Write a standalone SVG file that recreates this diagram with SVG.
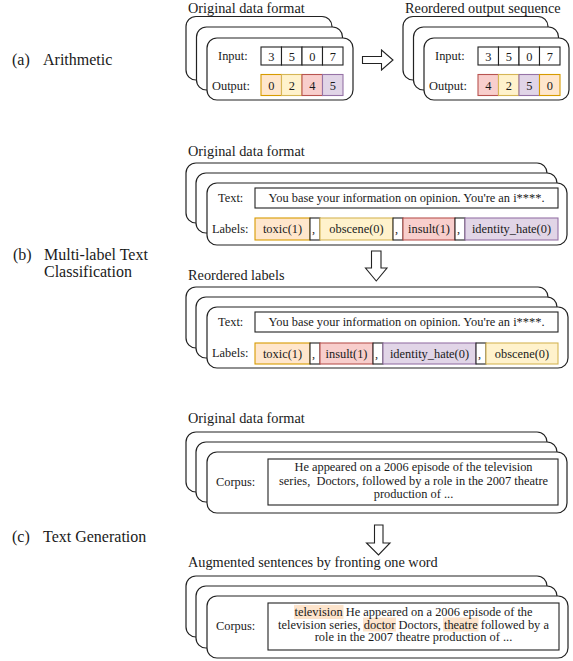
<svg xmlns="http://www.w3.org/2000/svg" width="573" height="661" viewBox="0 0 573 661">
<style>
text{font-family:"Liberation Serif","Times New Roman",serif;fill:#1a1a1a}
.t{font-size:14.3px}
.s{font-size:16px}
.b{font-size:12.4px}
.m{text-anchor:middle}
.card{fill:#fff;stroke:#222;stroke-width:1.2}
.box{fill:#fff;stroke:#222;stroke-width:1.1}
.or{fill:#ffe6cc;stroke:#d79b00;stroke-width:1.1}
.ye{fill:#fff2cc;stroke:#d6b656;stroke-width:1.1}
.re{fill:#f8cecc;stroke:#b85450;stroke-width:1.1}
.pu{fill:#e1d5e7;stroke:#9673a6;stroke-width:1.1}
.hl{fill:#fde4cc}
.arrow{fill:#fff;stroke:#222;stroke-width:1.1}
</style>
<rect width="573" height="661" fill="#fff"/>

<g id="section-labels">
<text class="s" x="12" y="65">(a)</text><text class="s" x="43" y="65">Arithmetic</text>
<text class="s" x="13" y="259.5">(b)</text><text class="s" x="44" y="259.5">Multi-label Text</text>
<text class="s" x="44" y="277">Classification</text>
<text class="s" x="12" y="542">(c)</text><text class="s" x="43" y="542">Text Generation</text>
</g>

<g id="a-original">
<text class="t" x="188" y="13">Original data format</text>
<rect class="card" x="186" y="16.5" width="146" height="63.5" rx="10"/>
<rect class="card" x="196.5" y="27" width="146" height="63" rx="10"/>
<rect class="card" x="207" y="38" width="146" height="62" rx="10"/>
<text class="b" x="218" y="60">Input:</text>
<rect class="box" x="261" y="47" width="20.5" height="18"/>
<rect class="box" x="281.5" y="47" width="20.5" height="18"/>
<rect class="box" x="302" y="47" width="20.5" height="18"/>
<rect class="box" x="322.5" y="47" width="20.5" height="18"/>
<text class="b m" x="271.25" y="60.5">3</text>
<text class="b m" x="291.75" y="60.5">5</text>
<text class="b m" x="312.25" y="60.5">0</text>
<text class="b m" x="332.75" y="60.5">7</text>
<text class="b" x="212" y="89.5">Output:</text>
<rect class="or" x="261" y="74.5" width="20.5" height="21"/>
<rect class="ye" x="281.5" y="74.5" width="20.5" height="21"/>
<rect class="re" x="302" y="74.5" width="20.5" height="21"/>
<rect class="pu" x="322.5" y="74.5" width="20.5" height="21"/>
<text class="b m" x="271.25" y="89.5">0</text>
<text class="b m" x="291.75" y="89.5">2</text>
<text class="b m" x="312.25" y="89.5">4</text>
<text class="b m" x="332.75" y="89.5">5</text>
</g>

<g id="a-reordered">
<text class="t" x="405" y="13">Reordered output sequence</text>
<rect class="card" x="403" y="16.5" width="145" height="63.5" rx="10"/>
<rect class="card" x="413.5" y="27" width="145" height="63" rx="10"/>
<rect class="card" x="424" y="38" width="145" height="62" rx="10"/>
<text class="b" x="435" y="60">Input:</text>
<rect class="box" x="478" y="47" width="20.5" height="18"/>
<rect class="box" x="498.5" y="47" width="20.5" height="18"/>
<rect class="box" x="519" y="47" width="20.5" height="18"/>
<rect class="box" x="539.5" y="47" width="20.5" height="18"/>
<text class="b m" x="488.25" y="60.5">3</text>
<text class="b m" x="508.75" y="60.5">5</text>
<text class="b m" x="529.25" y="60.5">0</text>
<text class="b m" x="549.75" y="60.5">7</text>
<text class="b" x="429" y="89.5">Output:</text>
<rect class="re" x="478" y="74.5" width="20.5" height="21"/>
<rect class="ye" x="498.5" y="74.5" width="20.5" height="21"/>
<rect class="pu" x="519" y="74.5" width="20.5" height="21"/>
<rect class="or" x="539.5" y="74.5" width="20.5" height="21"/>
<text class="b m" x="488.25" y="89.5">4</text>
<text class="b m" x="508.75" y="89.5">2</text>
<text class="b m" x="529.25" y="89.5">5</text>
<text class="b m" x="549.75" y="89.5">0</text>
</g>

<g id="b-original">
<text class="t" x="188" y="156">Original data format</text>
<rect class="card" x="186" y="163" width="361" height="60" rx="10"/>
<rect class="card" x="196" y="173" width="361" height="60" rx="10"/>
<rect class="card" x="207" y="183" width="360" height="62" rx="10"/>
<text class="b" x="218" y="202">Text:</text>
<rect class="box" x="255" y="188" width="303" height="20"/>
<text class="b m" x="406.5" y="202">You base your information on opinion. You're an i****.</text>
<text class="b" x="212" y="233">Labels:</text>
<rect class="or" x="255" y="218" width="55" height="22"/>
<rect class="box" x="310" y="218" width="10" height="22"/>
<rect class="ye" x="320" y="218" width="73" height="22"/>
<rect class="box" x="393" y="218" width="10" height="22"/>
<rect class="re" x="403" y="218" width="52" height="22"/>
<rect class="box" x="455" y="218" width="10" height="22"/>
<rect class="pu" x="465" y="218" width="93" height="22"/>
<text class="b m" x="282.5" y="233">toxic(1)</text>
<text class="b" x="312" y="233">,</text>
<text class="b m" x="356.5" y="233">obscene(0)</text>
<text class="b" x="395" y="233">,</text>
<text class="b m" x="429" y="233">insult(1)</text>
<text class="b" x="457" y="233">,</text>
<text class="b m" x="511.5" y="233">identity_hate(0)</text>
</g>

<g id="b-reordered">
<text class="t" x="188" y="280">Reordered labels</text>
<rect class="card" x="186" y="287" width="362" height="61" rx="10"/>
<rect class="card" x="196" y="297" width="361" height="61" rx="10"/>
<rect class="card" x="207" y="307" width="361" height="61" rx="10"/>
<text class="b" x="218" y="326">Text:</text>
<rect class="box" x="255" y="312" width="303" height="20"/>
<text class="b m" x="406.5" y="326">You base your information on opinion. You're an i****.</text>
<text class="b" x="212" y="357">Labels:</text>
<rect class="or" x="255" y="343" width="55" height="21"/>
<rect class="box" x="310" y="343" width="10" height="21"/>
<rect class="re" x="320" y="343" width="53" height="21"/>
<rect class="box" x="373" y="343" width="10" height="21"/>
<rect class="pu" x="383" y="343" width="93" height="21"/>
<rect class="box" x="476" y="343" width="10" height="21"/>
<rect class="ye" x="486" y="343" width="72" height="21"/>
<text class="b m" x="282.5" y="357.5">toxic(1)</text>
<text class="b" x="312" y="357.5">,</text>
<text class="b m" x="346.5" y="357.5">insult(1)</text>
<text class="b" x="375" y="357.5">,</text>
<text class="b m" x="429.5" y="357.5">identity_hate(0)</text>
<text class="b" x="478" y="357.5">,</text>
<text class="b m" x="522" y="357.5">obscene(0)</text>
</g>

<g id="c-original">
<text class="t" x="188" y="423">Original data format</text>
<rect class="card" x="186" y="432" width="361" height="60" rx="10"/>
<rect class="card" x="196" y="442" width="361" height="60" rx="10"/>
<rect class="card" x="207" y="452" width="360" height="61" rx="10"/>
<text class="b" x="216" y="486">Corpus:</text>
<rect class="box" x="268" y="459" width="290" height="46"/>
<text class="b m" x="413.5" y="471">He appeared on a 2006 episode of the television</text>
<text class="b m" x="413.5" y="484.5">series,&#160; Doctors, followed by a role in the 2007 theatre</text>
<text class="b m" x="413.5" y="498">production of ...</text>
</g>

<g id="c-augmented">
<text class="t" x="188" y="567">Augmented sentences by fronting one word</text>
<rect class="card" x="186" y="576" width="361" height="61" rx="10"/>
<rect class="card" x="196" y="586" width="361" height="62" rx="10"/>
<rect class="card" x="207" y="596" width="361" height="62" rx="10"/>
<text class="b" x="216" y="630">Corpus:</text>
<rect class="box" x="268" y="603" width="291" height="47"/>
<rect class="hl" x="294" y="605" width="49.5" height="14"/>
<rect class="hl" x="363" y="617.5" width="33" height="14"/>
<rect class="hl" x="443" y="617.5" width="35.5" height="14"/>
<text class="b m" x="413.5" y="616">television He appeared on a 2006 episode of the</text>
<text class="b m" x="413.5" y="628.5">television series, doctor Doctors, theatre followed by a</text>
<text class="b m" x="413.5" y="641">role in the 2007 theatre production of ...</text>
</g>

<g id="connectors">
<polygon class="arrow" points="362.5,56.5 381.5,56.5 381.5,50 393,60 381.5,70 381.5,63.5 362.5,63.5"/>
<polygon class="arrow" points="371.5,251 381,251 381,268 387,268 376.25,281 365.5,268 371.5,268"/>
<polygon class="arrow" points="374.5,525 383,525 383,543 390,543 378.5,555 366.5,543 374.5,543"/>
</g>
</svg>
